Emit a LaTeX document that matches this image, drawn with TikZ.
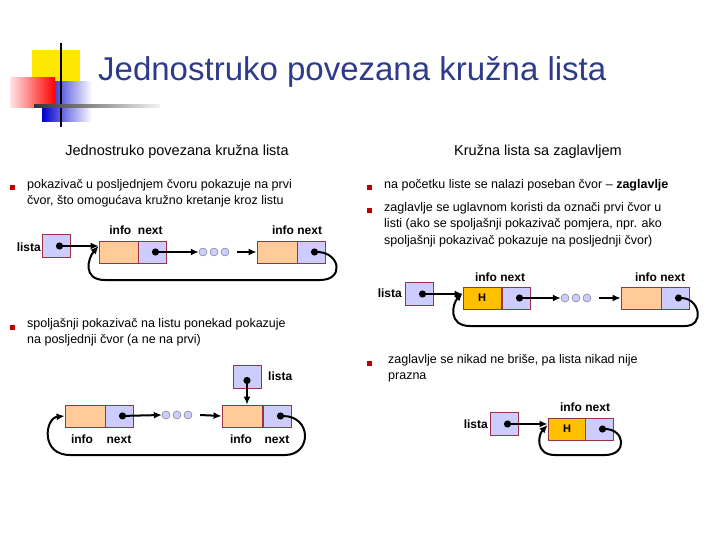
\documentclass[tikz,border=0pt]{standalone}
\usepackage{fontspec}
\setmainfont{Liberation Sans}
\usetikzlibrary{arrows.meta}
\definecolor{peach}{HTML}{FFCC99}
\definecolor{lav}{HTML}{CCCCFF}
\definecolor{bord}{HTML}{993344}
\definecolor{hcol}{HTML}{FFC000}
\definecolor{ttl}{HTML}{2E3A8C}
\begin{document}
\begin{tikzpicture}[x=1pt,y=-1pt,
 cell/.style={draw=bord,line width=0.8pt,inner sep=0,minimum height=22pt},
 infob/.style={cell,fill=peach,minimum width=40pt},
 nextb/.style={cell,fill=lav,minimum width=28pt},
 hb/.style={cell,fill=hcol,minimum width=38pt,font=\bfseries\fontsize{11}{12}\selectfont},
 ptrb/.style={cell,fill=lav,minimum width=28pt,minimum height=23pt},
 dotc/.style={circle,draw=black!60,fill=lav,inner sep=0,minimum size=8pt},
 lbl/.style={font=\bfseries\fontsize{12}{13}\selectfont,inner sep=0},
 txt/.style={font=\fontsize{12.5}{16.5}\selectfont,align=left,anchor=north west,inner sep=0},
 bul/.style={fill=red!75!black,minimum size=5pt,inner sep=0},
 arr/.style={line width=2pt,-{Latex[length=8pt,width=7pt]}},
 dotstart/.style={{Circle[length=7pt]}-{Latex[length=8pt,width=7pt]},line width=2pt}]
\useasboundingbox (0,0) rectangle (720,540);
% logo
\fill[yellow!90!orange] (32,50) rectangle (80,82);
\shade[left color=blue!80!black,right color=white] (42,82) rectangle (92,122);
\shade[left color=red!10,right color=red] (10,78) rectangle (55,108);
\draw[line width=2pt] (61,43) -- (61,127);
\shade[left color=black!80,right color=black!5] (34,105) rectangle (160,108);
\node[anchor=west,text=ttl,font=\fontsize{33}{35}\selectfont,inner sep=0] (title) at (98,72) {Jednostruko povezana kružna lista};
% headers
\node[font=\fontsize{14.5}{16}\selectfont,inner sep=0] (h1) at (177,152) {Jednostruko povezana kružna lista};
\node[font=\fontsize{14.5}{16}\selectfont,inner sep=0] (h2) at (538,152) {Kružna lista sa zaglavljem};
% bullets
\node[bul] (b1) at (12,188) {};
\node[txt] (t1) at (27,179) {pokazivač u posljednjem čvoru pokazuje na prvi\\čvor, što omogućava kružno kretanje kroz listu};
\node[bul] (b2) at (12,327) {};
\node[txt] (t2) at (27,318) {spoljašnji pokazivač na listu ponekad pokazuje\\na posljednji čvor (a ne na prvi)};
\node[bul] (b3) at (369,188) {};
\node[txt] (t3) at (384,179) {na početku liste se nalazi poseban čvor – \textbf{zaglavlje}};
\node[bul] (b4) at (369,211) {};
\node[txt] (t4) at (384,202) {zaglavlje se uglavnom koristi da označi prvi čvor u\\listi (ako se spoljašnji pokazivač pomjera, npr. ako\\spoljašnji pokazivač pokazuje na posljednji čvor)};
\node[bul] (b5) at (369,363) {};
\node[txt] (t5) at (388,354) {zaglavlje se nikad ne briše, pa lista nikad nije\\prazna};
% diagram 1
\node[lbl,anchor=east] (l1) at (41,247) {lista};
\node[ptrb] (p1) at (56,246) {};
\node[infob] (a1) at (119,252) {};
\node[nextb] (n1) at (152,252) {};
\node[lbl] (i1) at (136,230) {info~~next};
\node[dotc] (d1a) at (203,252) {};\node[dotc] (d1b) at (214,252) {};\node[dotc] (d1c) at (225,252) {};
\node[infob] (a2) at (277,252) {};
\node[nextb] (n2) at (311,252) {};
\node[lbl] (i2) at (297,230) {info next};
\draw[dotstart] (p1.center) -- (a1.west |- p1.center);
\draw[dotstart] (n1.center) -- (d1a.west);
\draw[arr] (d1c.east) ++(8,0) -- (a2.west);
\draw[dotstart] (n2.center) .. controls (340,252) and (345,280) .. (320,280) -- (105,280) .. controls (82,280) and (88,258) .. ([yshift=6pt]a1.west);
% diagram 2
\node[lbl,anchor=east] (l2) at (402,293) {lista};
\node[ptrb] (p2) at (419,294) {};
\node[hb] (a3) at (482,298) {H};
\node[nextb] (n3) at (516,298) {};
\node[lbl] (i3) at (500,277) {info next};
\node[dotc] (d2a) at (565,298) {};\node[dotc] (d2b) at (576,298) {};\node[dotc] (d2c) at (587,298) {};
\node[infob] (a4) at (641,298) {};
\node[nextb] (n4) at (675,298) {};
\node[lbl] (i4) at (660,277) {info next};
\draw[dotstart] (p2.center) -- (a3.west |- p2.center);
\draw[dotstart] (n3.center) -- (d2a.west);
\draw[arr] (d2c.east) ++(8,0) -- (a4.west);
\draw[dotstart] (n4.center) .. controls (700,298) and (705,326) .. (685,326) -- (470,326) .. controls (448,326) and (452,304) .. ([yshift=5pt]a3.west);
% diagram 3
\node[ptrb] (p3) at (247,377) {};
\node[lbl,anchor=west] (l3) at (268,376) {lista};
\node[infob] (a5) at (85,416) {};
\node[nextb] (n5) at (119,416) {};
\node[lbl,anchor=base] (i5a) at (82,443) {info};
\node[lbl,anchor=base] (i5b) at (119,443) {next};
\node[dotc] (d3a) at (166,415) {};\node[dotc] (d3b) at (177,415) {};\node[dotc] (d3c) at (188,415) {};
\node[infob] (a6) at (242,416) {};
\node[nextb] (n6) at (277,416) {};
\node[lbl,anchor=base] (i6a) at (241,443) {info};
\node[lbl,anchor=base] (i6b) at (277,443) {next};
\draw[dotstart] (p3.center) -- (a6.north -| p3.center);
\draw[dotstart] (n5.center) -- (d3a.west);
\draw[arr] (d3c.east) ++(8,0) -- (a6.west);
\draw[dotstart] (n6.center) .. controls (312,416) and (312,455) .. (285,455) -- (70,455) .. controls (40,455) and (45,418) .. (a5.west);
% diagram 4
\node[lbl,anchor=east] (l4) at (488,424) {lista};
\node[ptrb] (p4) at (504,424) {};
\node[hb] (a7) at (567,429) {H};
\node[nextb] (n7) at (599,429) {};
\node[lbl] (i7) at (585,407) {info next};
\draw[dotstart] (p4.center) -- (a7.west |- p4.center);
\draw[dotstart] (n7.center) .. controls (625,429) and (628,455) .. (605,455) -- (555,455) .. controls (535,455) and (538,435) .. ([yshift=4pt]a7.west);
\end{tikzpicture}
\end{document}
